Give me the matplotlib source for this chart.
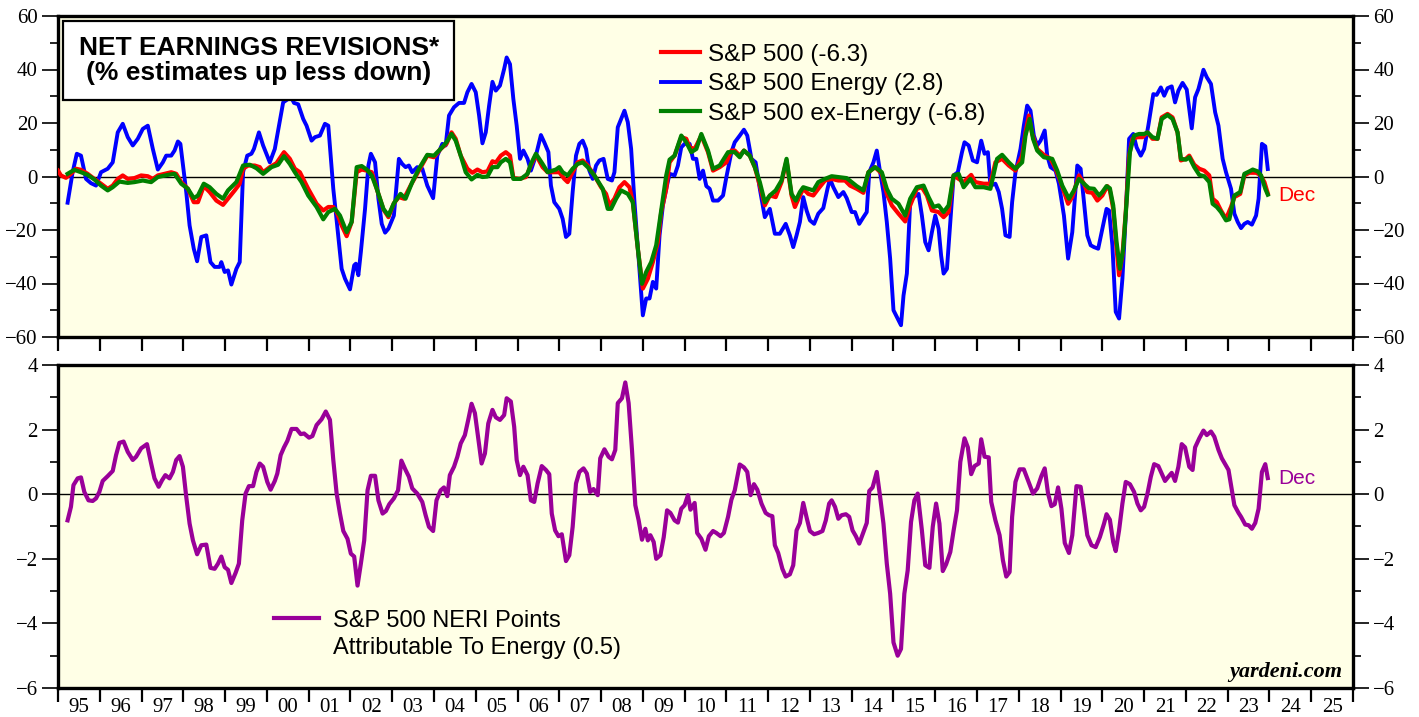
import matplotlib
matplotlib.use("Agg")
import matplotlib.pyplot as plt
from matplotlib.ticker import FixedLocator, MultipleLocator, NullFormatter
from matplotlib.lines import Line2D

# net earnings revisions, (year, % up less down)
sp500 = [(1995.00,2.2),(1995.07,0.4),(1995.19,-0.5),(1995.31,1.0),(1995.43,2.9),(1995.55,2.5),(1995.71,1.0),(1995.87,-0.9),(1996.03,-2.7),(1996.19,-4.6),(1996.31,-3.4),(1996.43,-0.9),(1996.55,0.4),(1996.67,-0.9),(1996.83,-0.6),(1996.99,0.4),(1997.15,0.1),(1997.27,-0.9),(1997.39,0.4),(1997.55,1.0),(1997.71,1.6),(1997.83,1.0),(1997.95,-2.1),(1998.11,-4.6),(1998.25,-9.6),(1998.35,-9.6),(1998.49,-3.6),(1998.63,-5.8),(1998.79,-9.0),(1998.95,-10.6),(1999.07,-8.3),(1999.23,-5.2),(1999.35,-2.7),(1999.43,2.9),(1999.55,4.1),(1999.71,4.1),(1999.83,3.5),(1999.91,1.6),(2000.07,3.5),(2000.23,5.0),(2000.41,9.1),(2000.55,6.6),(2000.67,2.9),(2000.79,1.6),(2000.99,-4.6),(2001.19,-10.2),(2001.35,-12.7),(2001.47,-11.4),(2001.59,-11.4),(2001.67,-13.3),(2001.79,-18.3),(2001.91,-22.3),(2002.03,-17.0),(2002.15,1.6),(2002.27,2.6),(2002.39,2.2),(2002.51,1.6),(2002.63,-4.6),(2002.79,-12.3),(2002.91,-15.2),
         (2003.04,-10.0),(2003.16,-7.7),(2003.28,-8.3),(2003.44,-3.4),(2003.64,2.2),(2003.84,7.8),(2004.00,7.2),(2004.16,10.3),(2004.30,12.2),(2004.42,16.5),(2004.52,14.1),(2004.64,7.8),(2004.80,2.9),(2004.92,1.4),(2005.04,2.6),(2005.16,1.6),(2005.28,1.9),(2005.40,5.7),(2005.48,5.2),(2005.60,7.8),(2005.72,9.1),(2005.82,7.8),(2005.90,-0.5),(2006.04,-0.9),(2006.20,-0.2),(2006.32,4.1),(2006.44,8.1),(2006.60,3.5),(2006.72,1.6),(2006.88,1.6),(2007.00,1.6),(2007.12,-0.9),(2007.20,-2.1),(2007.32,1.6),(2007.44,5.3),(2007.56,6.0),(2007.68,4.1),(2007.84,0.4),(2008.00,-4.0),(2008.12,-6.5),(2008.20,-10.8),(2008.32,-8.3),(2008.44,-4.0),(2008.56,-2.1),(2008.68,-4.0),(2008.76,-9.6),(2008.88,-27.0),(2009.00,-41.9),(2009.12,-38.2),(2009.24,-32.0),(2009.36,-24.5),(2009.44,-13.3),(2009.56,-4.6),(2009.64,5.3),(2009.76,7.8),(2009.92,14.7),(2010.04,14.1),(2010.12,10.9),(2010.24,10.3),(2010.40,15.3),(2010.56,9.1),(2010.68,2.2),(2010.84,3.5),(2011.00,5.3),(2011.12,9.7),
         (2011.20,9.7),(2011.32,7.8),(2011.42,9.7),(2011.56,7.8),(2011.68,3.5),(2011.80,-3.4),(2011.92,-10.8),(2012.04,-7.1),(2012.18,-7.7),(2012.32,-2.1),(2012.44,6.0),(2012.56,-7.1),(2012.64,-11.4),(2012.76,-7.1),(2012.84,-4.6),(2012.96,-6.5),(2013.08,-7.1),(2013.20,-4.6),(2013.36,-1.5),(2013.52,-0.9),(2013.68,-1.5),(2013.84,-1.5),(2013.96,-3.4),(2014.12,-4.6),(2014.28,-6.1),(2014.40,1.6),(2014.56,3.5),(2014.72,1.0),(2014.84,-6.5),(2014.96,-10.8),(2015.12,-13.9),(2015.28,-16.8),(2015.40,-10.8),(2015.56,-4.6),(2015.68,-4.0),(2015.80,-7.1),(2015.92,-12.7),(2016.08,-13.3),(2016.20,-15.2),(2016.32,-13.3),(2016.44,0.4),(2016.56,-0.9),(2016.68,-2.1),(2016.86,0.6),(2016.96,-2.1),(2017.16,-2.7),(2017.32,-2.7),(2017.44,5.3),(2017.60,6.6),(2017.76,4.1),(2017.92,2.2),(2018.08,7.8),(2018.16,16.5),(2018.24,22.8),(2018.32,15.9),(2018.44,10.3),(2018.60,8.1),(2018.76,6.6),(2018.88,2.9),(2019.00,-2.1),(2019.18,-10.2),(2019.28,-7.7),
         (2019.44,0.4),(2019.56,-2.7),(2019.64,-5.8),(2019.76,-6.1),(2019.88,-9.0),(2020.00,-7.1),(2020.12,-3.6),(2020.18,-5.2),(2020.26,-12.1),(2020.34,-27.0),(2020.40,-36.9),(2020.48,-29.5),(2020.56,-13.3),(2020.64,7.8),(2020.72,14.1),(2020.84,14.7),(2020.96,14.7),(2021.08,16.5),(2021.20,14.1),(2021.32,14.1),(2021.42,22.1),(2021.56,23.4),(2021.68,22.1),(2021.80,16.5),(2021.88,6.0),(2022.00,6.6),(2022.08,7.8),(2022.20,4.4),(2022.32,2.9),(2022.44,2.2),(2022.56,0.4),(2022.64,-8.3),(2022.74,-9.6),(2022.84,-12.7),(2022.96,-15.8),(2023.08,-11.4),(2023.16,-7.7),(2023.30,-6.5),(2023.40,0.4),(2023.52,1.4),(2023.68,1.4),(2023.78,0.6),(2023.88,-2.1),(2023.96,-6.3)]

energy = [(1995.23,-9.8),(1995.35,1.6),(1995.45,8.5),(1995.55,7.8),(1995.67,-0.9),(1995.79,-2.5),(1995.91,-3.4),(1996.03,1.6),(1996.19,2.9),(1996.31,5.3),(1996.43,16.5),(1996.55,19.7),(1996.67,14.7),(1996.79,11.6),(1996.91,14.1),(1997.03,17.8),(1997.15,19.0),(1997.27,10.3),(1997.39,2.6),(1997.51,5.3),(1997.59,7.8),(1997.71,7.8),(1997.79,9.7),(1997.87,13.1),(1997.93,12.2),(1998.07,-5.8),(1998.15,-18.3),(1998.25,-27.0),(1998.33,-31.7),(1998.43,-22.6),(1998.55,-22.0),(1998.65,-32.0),(1998.75,-33.8),(1998.87,-33.8),(1998.91,-32.0),(1998.99,-35.7),(1999.07,-35.1),(1999.15,-40.4),(1999.27,-34.5),(1999.35,-32.0),(1999.43,1.6),(1999.53,7.8),(1999.63,8.5),(1999.69,10.3),(1999.81,16.5),(1999.91,11.6),(2000.07,5.3),(2000.19,10.3),(2000.29,19.0),(2000.39,27.7),(2000.51,29.0),(2000.57,30.0),(2000.65,27.5),(2000.75,27.0),(2000.87,21.5),(2000.95,19.0),(2001.07,13.4),(2001.15,14.7),(2001.27,15.3),(2001.39,19.7),(2001.47,19.0),(2001.59,-4.6),(2001.67,-16.4),(2001.79,-34.5),(2001.87,-38.2),(2001.99,-42.2),(2002.09,-33.2),(2002.13,-32.6),(2002.19,-36.9),(2002.25,-28.2),(2002.35,-12.1),(2002.43,4.1),(2002.49,8.5),(2002.59,5.3),(2002.67,-8.3),(2002.75,-17.7),(2002.83,-21.0),(2002.91,-19.5),
          (2003.04,-14.6),(2003.16,6.6),(2003.24,4.7),(2003.32,3.5),(2003.40,4.1),(2003.48,1.6),(2003.60,3.5),(2003.72,2.9),(2003.84,-3.4),(2003.98,-8.1),(2004.08,7.8),(2004.20,12.2),(2004.28,11.6),(2004.36,22.8),(2004.48,25.9),(2004.60,27.5),(2004.72,27.5),(2004.80,31.5),(2004.90,34.6),(2005.00,31.5),(2005.08,22.8),(2005.16,12.4),(2005.24,16.5),(2005.32,26.5),(2005.40,35.4),(2005.48,32.1),(2005.58,34.0),(2005.68,40.2),(2005.74,44.5),(2005.82,42.0),(2005.90,29.0),(2005.98,19.0),(2006.06,6.6),(2006.14,9.7),(2006.24,6.6),(2006.32,2.2),(2006.44,7.8),(2006.56,15.5),(2006.64,12.8),(2006.74,9.1),(2006.80,-3.4),(2006.88,-9.6),(2007.00,-12.1),(2007.08,-15.8),(2007.16,-22.6),(2007.24,-21.4),(2007.32,-5.8),(2007.40,7.8),(2007.48,12.2),(2007.56,13.4),(2007.64,10.3),(2007.72,2.2),(2007.80,-0.9),(2007.88,4.1),(2007.96,6.0),(2008.06,6.6),(2008.16,-0.9),(2008.26,-1.5),(2008.32,1.6),(2008.40,18.4),(2008.48,21.5),(2008.56,24.6),(2008.64,20.3),(2008.72,10.3),(2008.80,-9.6),(2008.90,-30.7),(2009.00,-51.9),(2009.08,-45.6),(2009.16,-45.6),(2009.24,-39.4),(2009.32,-41.9),(2009.40,-22.0),(2009.48,-10.8),(2009.56,-4.6),(2009.64,1.0),(2009.76,0.4),(2009.84,4.1),(2009.92,10.9),(2010.00,12.2),(2010.12,12.2),(2010.20,6.6),(2010.28,6.6),(2010.36,-0.9),(2010.44,2.2),(2010.52,-3.6),(2010.60,-4.6),(2010.68,-9.0),(2010.80,-9.0),(2010.92,-7.1),(2011.00,-0.2),(2011.12,9.1),
          (2011.20,12.8),(2011.32,15.3),(2011.42,17.5),(2011.50,15.3),(2011.60,6.6),(2011.70,5.3),(2011.80,-4.6),(2011.92,-15.2),(2012.04,-12.1),(2012.16,-21.4),(2012.28,-21.4),(2012.42,-17.7),(2012.52,-22.0),(2012.60,-26.4),(2012.68,-22.0),(2012.76,-17.0),(2012.84,-7.7),(2012.92,-12.7),(2013.00,-16.4),(2013.10,-17.7),(2013.20,-13.9),(2013.32,-11.8),(2013.42,-4.6),(2013.48,-0.9),(2013.56,-4.0),(2013.68,-7.7),(2013.80,-5.8),(2013.88,-8.1),(2014.00,-13.3),(2014.08,-13.3),(2014.18,-17.7),(2014.28,-15.2),(2014.36,-13.3),(2014.42,1.6),(2014.52,5.3),(2014.60,9.7),(2014.68,1.6),(2014.76,-5.8),(2014.84,-17.0),(2014.92,-30.7),(2015.00,-50.0),(2015.08,-52.5),(2015.18,-55.6),(2015.24,-44.5),(2015.32,-36.3),(2015.40,-9.6),(2015.48,-7.7),(2015.60,-6.5),(2015.68,-14.6),(2015.76,-24.5),(2015.84,-27.6),(2015.92,-20.8),(2016.00,-14.6),(2016.08,-19.5),(2016.14,-29.5),(2016.20,-36.3),(2016.28,-34.5),(2016.36,-17.0),(2016.44,0.4),(2016.54,1.6),(2016.64,9.1),(2016.70,12.8),(2016.80,11.6),(2016.90,6.0),(2017.00,5.3),(2017.10,13.4),(2017.18,8.5),(2017.26,9.1),(2017.32,-3.4),(2017.44,-2.7),(2017.52,-5.8),(2017.60,-12.1),(2017.68,-22.0),(2017.78,-22.6),(2017.84,-9.6),(2017.92,1.6),(2018.04,10.3),(2018.12,19.0),(2018.20,26.5),(2018.28,24.6),(2018.36,15.3),(2018.44,11.6),(2018.52,13.4),(2018.62,17.2),(2018.68,7.8),(2018.76,3.5),(2018.88,2.2),(2018.96,-2.7),(2019.08,-14.6),(2019.18,-30.7),(2019.28,-20.8),
          (2019.40,4.1),(2019.48,2.9),(2019.56,-9.6),(2019.64,-22.0),(2019.72,-25.7),(2019.80,-26.4),(2019.90,-27.0),(2020.00,-19.5),(2020.10,-12.1),(2020.16,-12.7),(2020.24,-25.7),(2020.32,-50.6),(2020.40,-53.1),(2020.48,-38.2),(2020.56,-14.6),(2020.64,14.1),(2020.74,15.9),(2020.82,10.9),(2020.92,7.8),(2021.00,10.3),(2021.10,19.0),(2021.22,30.8),(2021.30,30.5),(2021.40,33.3),(2021.48,30.2),(2021.56,33.0),(2021.66,33.7),(2021.74,27.7),(2021.82,32.1),(2021.92,35.0),(2022.02,32.5),(2022.14,18.0),(2022.22,29.6),(2022.30,32.7),(2022.42,39.9),(2022.50,37.1),(2022.60,34.6),(2022.70,24.0),(2022.78,19.0),(2022.88,6.6),(2022.96,1.6),(2023.08,-4.6),(2023.16,-13.9),(2023.24,-17.0),(2023.32,-19.3),(2023.40,-17.7),(2023.48,-17.0),(2023.58,-18.0),(2023.68,-14.6),(2023.74,-8.3),(2023.82,12.2),(2023.90,11.3),(2023.96,2.8)]

ex_energy = [(1995.23,1.0),(1995.39,2.5),(1995.55,1.6),(1995.71,0.6),(1995.87,-1.1),(1996.03,-3.4),(1996.19,-5.2),(1996.31,-4.0),(1996.47,-1.9),(1996.67,-2.4),(1996.83,-2.1),(1997.03,-1.5),(1997.23,-2.1),(1997.39,-0.2),(1997.63,0.6),(1997.79,1.0),(1997.95,-2.7),(1998.11,-4.6),(1998.25,-8.1),(1998.35,-7.1),(1998.49,-2.7),(1998.63,-4.0),(1998.79,-6.5),(1998.95,-8.3),(1999.07,-5.2),(1999.27,-2.1),(1999.43,4.1),(1999.59,4.4),(1999.75,3.1),(1999.91,1.0),(2000.11,3.5),(2000.27,4.4),(2000.41,7.6),(2000.55,4.7),(2000.67,1.6),(2000.83,-2.1),(2000.99,-7.1),(2001.19,-11.4),(2001.35,-16.0),(2001.47,-13.3),(2001.63,-12.1),(2001.75,-14.6),(2001.91,-20.8),(2002.03,-17.0),(2002.15,3.5),(2002.27,3.9),(2002.39,2.6),(2002.51,0.4),(2002.63,-4.6),(2002.79,-12.1),(2002.91,-14.6),
             (2003.04,-10.0),(2003.20,-6.5),(2003.32,-8.3),(2003.48,-2.1),(2003.64,2.9),(2003.84,8.1),(2004.00,7.8),(2004.16,10.3),(2004.30,12.8),(2004.42,15.9),(2004.52,13.4),(2004.64,7.8),(2004.76,1.6),(2004.90,-1.1),(2005.04,0.6),(2005.16,-0.2),(2005.28,0.0),(2005.40,3.5),(2005.52,3.5),(2005.60,5.3),(2005.72,6.6),(2005.82,5.3),(2005.90,-0.9),(2006.08,-0.9),(2006.24,1.0),(2006.32,4.7),(2006.44,8.5),(2006.60,4.7),(2006.72,1.6),(2006.92,2.6),(2007.00,3.5),(2007.08,1.6),(2007.20,0.4),(2007.32,2.9),(2007.44,4.7),(2007.56,5.3),(2007.68,3.5),(2007.84,0.4),(2008.04,-4.6),(2008.16,-12.1),(2008.24,-12.1),(2008.36,-8.3),(2008.48,-5.2),(2008.64,-6.5),(2008.76,-9.6),(2008.88,-27.0),(2008.98,-40.1),(2009.08,-35.7),(2009.20,-32.0),(2009.32,-25.7),(2009.44,-12.7),(2009.56,0.4),(2009.64,6.3),(2009.76,7.8),(2009.92,15.3),(2010.04,12.8),(2010.16,9.1),(2010.28,10.3),(2010.40,15.9),(2010.56,9.7),(2010.68,2.9),(2010.84,4.1),(2011.04,9.1),
             (2011.20,9.1),(2011.32,7.2),(2011.42,9.7),(2011.56,7.8),(2011.68,3.5),(2011.80,-2.1),(2011.92,-9.6),(2012.04,-7.1),(2012.18,-5.2),(2012.32,-1.5),(2012.44,6.6),(2012.56,-6.5),(2012.66,-9.0),(2012.76,-5.8),(2012.84,-4.0),(2012.96,-4.6),(2013.08,-5.2),(2013.20,-2.1),(2013.36,-0.9),(2013.52,0.1),(2013.68,-0.2),(2013.88,-0.6),(2014.00,-2.1),(2014.12,-3.6),(2014.28,-5.2),(2014.40,1.6),(2014.56,3.5),(2014.72,1.6),(2014.84,-4.6),(2014.96,-8.3),(2015.12,-10.2),(2015.28,-14.6),(2015.40,-8.3),(2015.56,-4.0),(2015.72,-3.4),(2015.84,-7.7),(2015.96,-11.4),(2016.08,-10.8),(2016.20,-13.3),(2016.32,-10.8),(2016.44,0.4),(2016.56,1.0),(2016.68,-4.0),(2016.84,-0.9),(2016.96,-4.0),(2017.16,-4.0),(2017.32,-4.6),(2017.48,6.6),(2017.60,8.1),(2017.76,5.3),(2017.92,2.9),(2018.08,5.3),(2018.16,15.3),(2018.26,21.5),(2018.34,14.1),(2018.44,9.7),(2018.60,7.2),(2018.80,6.6),(2018.92,2.2),(2019.04,-3.4),(2019.20,-8.3),(2019.32,-5.2),
             (2019.44,-0.9),(2019.56,-2.7),(2019.68,-4.4),(2019.80,-4.6),(2019.92,-7.1),(2020.00,-5.8),(2020.10,-3.6),(2020.18,-4.4),(2020.26,-10.8),(2020.34,-24.5),(2020.42,-34.5),(2020.50,-27.0),(2020.58,-9.6),(2020.66,9.1),(2020.76,15.3),(2020.88,15.9),(2021.00,15.9),(2021.08,16.5),(2021.20,14.7),(2021.32,14.1),(2021.42,21.5),(2021.56,23.0),(2021.68,21.5),(2021.80,16.5),(2021.88,6.6),(2022.00,6.3),(2022.08,7.2),(2022.20,3.5),(2022.32,0.6),(2022.44,0.1),(2022.56,-2.1),(2022.64,-10.2),(2022.74,-11.4),(2022.84,-13.3),(2022.96,-16.4),(2023.04,-16.0),(2023.16,-7.1),(2023.30,-5.8),(2023.40,1.0),(2023.52,1.9),(2023.60,2.6),(2023.72,1.9),(2023.80,0.4),(2023.90,-4.6),(2023.96,-6.8)]

# S&P 500 NERI points attributable to energy
neri_energy = [(1995.23,-0.81),(1995.31,-0.39),(1995.37,0.28),(1995.47,0.49),(1995.55,0.52),(1995.63,0.07),(1995.73,-0.19),(1995.83,-0.21),(1995.91,-0.13),(1995.99,0.07),(1996.07,0.41),(1996.19,0.56),(1996.31,0.72),(1996.39,1.21),(1996.47,1.59),(1996.57,1.63),(1996.67,1.31),(1996.79,1.06),(1996.87,1.16),(1996.99,1.42),(1997.13,1.55),(1997.23,0.95),(1997.31,0.49),(1997.41,0.23),(1997.49,0.43),(1997.57,0.59),(1997.67,0.49),(1997.75,0.69),(1997.83,1.06),(1997.91,1.18),(1997.99,0.85),(1998.07,-0.08),(1998.15,-0.91),(1998.23,-1.43),(1998.33,-1.86),(1998.43,-1.58),(1998.55,-1.56),(1998.65,-2.28),(1998.75,-2.31),(1998.83,-2.15),(1998.91,-1.93),(1998.99,-2.26),(1999.07,-2.34),(1999.15,-2.75),(1999.25,-2.44),(1999.33,-2.15),(1999.41,-0.81),(1999.49,0.02),(1999.57,0.25),(1999.67,0.25),(1999.75,0.69),(1999.83,0.95),(1999.91,0.85),(2000.01,0.38),(2000.09,0.14),(2000.19,0.41),(2000.25,0.64),(2000.33,1.21),(2000.41,1.45),(2000.49,1.65),(2000.59,2.02),(2000.71,2.02),(2000.81,1.86),(2000.89,1.88),(2001.01,1.75),(2001.09,1.80),(2001.19,2.14),(2001.31,2.32),(2001.41,2.56),(2001.51,2.30),(2001.59,1.06),(2001.67,0.02),(2001.75,-0.60),(2001.83,-1.14),(2001.93,-1.38),(2002.01,-1.84),(2002.09,-1.93),(2002.17,-2.83),(2002.25,-2.15),(2002.33,-1.43),(2002.41,0.12),(2002.49,0.57),(2002.59,0.57),(2002.67,-0.19),(2002.77,-0.60),(2002.85,-0.52),(2002.93,-0.31),
               (2003.04,-0.13),(2003.14,0.12),(2003.22,1.04),(2003.32,0.75),(2003.40,0.54),(2003.48,0.18),(2003.60,0.02),(2003.72,-0.24),(2003.80,-0.65),(2003.88,-1.01),(2003.98,-1.14),(2004.06,-0.19),(2004.16,0.12),(2004.24,0.21),(2004.32,-0.06),(2004.38,0.59),(2004.48,0.85),(2004.56,1.16),(2004.64,1.57),(2004.74,1.83),(2004.82,2.30),(2004.90,2.80),(2004.98,2.51),(2005.06,1.73),(2005.14,0.95),(2005.22,1.26),(2005.30,2.19),(2005.40,2.61),(2005.48,2.38),(2005.58,2.30),(2005.68,2.45),(2005.74,2.97),(2005.84,2.87),(2005.92,2.09),(2005.98,1.06),(2006.06,0.59),(2006.14,0.85),(2006.24,0.59),(2006.32,-0.19),(2006.40,-0.24),(2006.48,0.33),(2006.58,0.87),(2006.68,0.75),(2006.76,0.62),(2006.82,-0.60),(2006.90,-1.12),(2006.98,-1.30),(2007.06,-1.24),(2007.16,-2.07),(2007.24,-1.89),(2007.32,-1.01),(2007.40,0.33),(2007.48,0.69),(2007.58,0.80),(2007.66,0.64),(2007.74,0.07),(2007.82,0.16),(2007.92,-0.03),(2007.98,1.11),(2008.08,1.39),(2008.18,1.16),(2008.26,1.08),(2008.34,1.37),(2008.40,2.82),(2008.50,2.97),(2008.58,3.46),(2008.66,2.82),(2008.74,1.37),(2008.82,-0.34),(2008.90,-0.81),(2008.98,-1.41),(2009.06,-1.07),(2009.12,-1.43),(2009.18,-1.27),(2009.26,-1.48),(2009.32,-2.00),(2009.42,-1.89),(2009.50,-1.33),(2009.58,-0.50),(2009.66,-0.58),(2009.76,-0.81),(2009.84,-0.88),(2009.92,-0.45),(2010.00,-0.34),(2010.08,-0.03),(2010.14,-0.48),(2010.24,-0.27),(2010.30,-1.20),(2010.40,-1.38),(2010.50,-1.72),(2010.58,-1.30),(2010.68,-1.14),(2010.76,-1.20),(2010.86,-1.30),(2010.94,-1.20),(2011.04,-0.70),(2011.12,-0.17),
               (2011.20,0.12),(2011.32,0.92),(2011.42,0.83),(2011.50,0.69),(2011.58,-0.03),(2011.66,0.31),(2011.74,0.14),(2011.84,-0.29),(2011.94,-0.58),(2012.02,-0.65),(2012.10,-0.68),(2012.16,-1.58),(2012.24,-1.82),(2012.34,-2.31),(2012.42,-2.55),(2012.52,-2.48),(2012.60,-2.20),(2012.68,-1.12),(2012.76,-0.89),(2012.84,-0.27),(2012.92,-0.72),(2013.00,-1.14),(2013.10,-1.24),(2013.20,-1.20),(2013.30,-1.14),(2013.38,-0.81),(2013.46,-0.29),(2013.52,-0.19),(2013.60,-0.39),(2013.68,-0.76),(2013.76,-0.65),(2013.86,-0.62),(2013.94,-0.70),(2014.02,-1.12),(2014.10,-1.30),(2014.18,-1.53),(2014.28,-1.17),(2014.36,-0.89),(2014.42,0.10),(2014.50,0.21),(2014.60,0.69),(2014.68,-0.08),(2014.76,-0.91),(2014.84,-2.15),(2014.92,-3.08),(2015.00,-4.59),(2015.10,-5.00),(2015.18,-4.79),(2015.26,-3.08),(2015.34,-2.36),(2015.42,-0.86),(2015.50,-0.19),(2015.58,0.02),(2015.68,-1.12),(2015.76,-2.20),(2015.86,-2.28),(2015.94,-1.01),(2016.02,-0.29),(2016.10,-0.91),(2016.18,-2.38),(2016.26,-2.17),(2016.36,-1.79),(2016.44,-1.12),(2016.52,-0.50),(2016.60,1.00),(2016.70,1.73),(2016.78,1.45),(2016.86,0.62),(2016.94,0.87),(2017.04,0.95),(2017.10,1.70),(2017.18,1.16),(2017.28,1.14),(2017.34,-0.24),(2017.44,-0.81),(2017.54,-1.27),(2017.62,-2.05),(2017.70,-2.55),(2017.78,-2.41),(2017.84,-0.70),(2017.92,0.38),(2018.02,0.77),(2018.12,0.77),(2018.22,0.43),(2018.34,0.02),(2018.44,0.18),(2018.54,0.56),(2018.62,0.80),(2018.70,0.02),(2018.78,-0.37),(2018.86,-0.31),(2018.94,0.21),(2019.02,-0.45),(2019.10,-1.51),(2019.20,-1.82),(2019.28,-1.27),
               (2019.38,0.25),(2019.48,0.23),(2019.56,-0.50),(2019.64,-1.27),(2019.74,-1.58),(2019.84,-1.64),(2019.94,-1.33),(2020.04,-0.91),(2020.10,-0.62),(2020.18,-0.79),(2020.26,-1.48),(2020.32,-1.76),(2020.40,-1.12),(2020.48,-0.29),(2020.56,0.38),(2020.66,0.31),(2020.76,0.07),(2020.84,-0.29),(2020.92,-0.50),(2021.00,-0.39),(2021.08,0.02),(2021.16,0.54),(2021.24,0.93),(2021.34,0.87),(2021.42,0.64),(2021.50,0.41),(2021.58,0.54),(2021.66,0.66),(2021.74,0.41),(2021.82,0.85),(2021.90,1.55),(2021.98,1.45),(2022.08,0.85),(2022.16,0.75),(2022.22,1.45),(2022.32,1.73),(2022.42,1.97),(2022.50,1.83),(2022.60,1.94),(2022.68,1.78),(2022.78,1.37),(2022.86,1.11),(2022.94,0.93),(2023.02,0.75),(2023.10,0.12),(2023.16,-0.34),(2023.26,-0.58),(2023.32,-0.70),(2023.42,-0.94),(2023.50,-0.96),(2023.58,-1.07),(2023.66,-0.89),(2023.74,-0.45),(2023.82,0.69),(2023.90,0.93),(2023.96,0.5)]

years = list(range(1995, 2027))
year_labels = ["%02d" % (y % 100) for y in range(1995, 2026)]

plt.rcParams['font.family'] = ['Liberation Serif', 'DejaVu Serif']
SANS = ['Liberation Sans', 'DejaVu Sans']
BG = '#ffffe6'

W, H = 1419, 717
fig = plt.figure(figsize=(W / 100, H / 100), dpi=100)
ax1 = fig.add_axes([58 / W, 1 - 337 / H, 1295 / W, 321 / H])
ax2 = fig.add_axes([58 / W, 1 - 688 / H, 1295 / W, 323 / H])


def style(ax, ylim, major, minor):
    ax.set_facecolor(BG)
    ax.set_xlim(1995, 2026)
    ax.set_ylim(*ylim)
    for s in ax.spines.values():
        s.set_linewidth(2.4)
    ax.yaxis.set_major_locator(MultipleLocator(major))
    ax.yaxis.set_minor_locator(MultipleLocator(minor))
    ax.tick_params(axis='y', which='both', direction='out', left=True, right=True,
                   labelleft=True, labelright=True, width=1.2, labelsize=15, pad=3)
    ax.tick_params(axis='y', which='major', length=11.5)
    ax.tick_params(axis='y', which='minor', length=6)
    ax.xaxis.set_major_locator(FixedLocator(years))
    ax.tick_params(axis='x', which='major', direction='out', length=10, width=1.6,
                   labelbottom=False)
    ax.axhline(0, color='black', lw=1, zorder=1)


style(ax1, (-60, 60), 20, 10)
style(ax2, (-6, 4), 2, 1)

# bottom year labels sit between the year ticks
ax2.xaxis.set_minor_locator(FixedLocator([y + 0.5 for y in range(1995, 2026)]))
ax2.xaxis.set_minor_formatter(matplotlib.ticker.FixedFormatter(year_labels))
ax2.xaxis.set_major_formatter(NullFormatter())
ax2.tick_params(axis='x', which='minor', length=0, labelbottom=True, labelsize=15, pad=7.5)

t, v = zip(*energy)
l_en, = ax1.plot(t, v, color='#0000ff', lw=2.8, zorder=3)
t, v = zip(*sp500)
l_sp, = ax1.plot(t, v, color='#ff0000', lw=3.0, zorder=4)
t, v = zip(*ex_energy)
l_ex, = ax1.plot(t, v, color='#008000', lw=3.0, zorder=5)

t, v = zip(*neri_energy)
l_neri, = ax2.plot(t, v, color='#990099', lw=3.0, zorder=3)

ax1.legend([l_sp, l_en, l_ex],
           ['S&P 500 (-6.3)', 'S&P 500 Energy (2.8)', 'S&P 500 ex-Energy (-6.8)'],
           loc='upper left', bbox_to_anchor=(0.466, 0.913), frameon=False,
           borderpad=0, borderaxespad=0, handlelength=1.6, handletextpad=0.3,
           labelspacing=0.3, prop={'family': SANS, 'size': 17.5})

blank = Line2D([], [], color='none')
ax2.legend([l_neri, blank], ['S&P 500 NERI Points', 'Attributable To Energy (0.5)'],
           loc='upper left', bbox_to_anchor=(0.167, 0.243), frameon=False,
           borderpad=0, borderaxespad=0, handlelength=1.9, handletextpad=0.6,
           labelspacing=0.22, prop={'family': SANS, 'size': 17})

ax1.text(0.155, 0.862, 'NET EARNINGS REVISIONS*\n(% estimates up less down)',
         transform=ax1.transAxes, ha='center', va='center', ma='center',
         family=SANS, fontsize=19, fontweight='bold', linespacing=1.05, zorder=6,
         bbox=dict(boxstyle='square,pad=0.58', fc='white', ec='black', lw=1.6))

ax1.text(2024.2, -7, 'Dec', color='#ff0000', family=SANS, fontsize=15,
         ha='left', va='center')
ax2.text(2024.2, 0.5, 'Dec', color='#990099', family=SANS, fontsize=15,
         ha='left', va='center')

ax2.text(0.992, 0.05, 'yardeni.com', transform=ax2.transAxes, ha='right', va='center',
         fontsize=16, fontweight='bold', fontstyle='italic')

fig.savefig('out.png', dpi=100, facecolor='white')
